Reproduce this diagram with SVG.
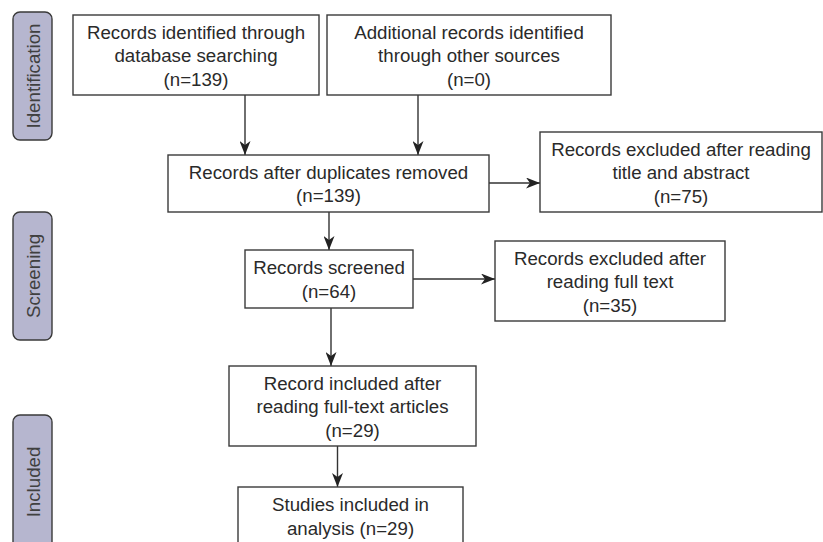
<svg xmlns="http://www.w3.org/2000/svg" width="823" height="542" viewBox="0 0 823 542">
<defs>
<style>
.box{fill:#fff;stroke:#3a3a3a;stroke-width:1.4}
.pill{fill:#b6b6cf;stroke:#3a3a3a;stroke-width:1.4}
text{font-family:"Liberation Sans",Arial,Helvetica,sans-serif;font-size:18.7px;fill:#2a2a2a;text-anchor:middle}
.pt{fill:#404040}
.conn{fill:none;stroke:#333;stroke-width:1.4;marker-end:url(#ah)}
</style>
<marker id="ah" markerUnits="userSpaceOnUse" viewBox="0 0 14 11" refX="14" refY="5.5" markerWidth="14" markerHeight="11" orient="auto">
<path d="M0,0 L14,5.5 L0,11 L4,5.5 z" fill="#222"/>
</marker>
</defs>
<rect width="823" height="542" fill="#fff"/>
<g id="stage-identification">
<rect class="pill" x="13" y="12" width="39" height="128" rx="7"/>
<text class="pt" transform="translate(39.5,76) rotate(-90)">Identification</text>
</g>
<g id="stage-screening">
<rect class="pill" x="13" y="212" width="39" height="128" rx="7"/>
<text class="pt" transform="translate(39.5,276) rotate(-90)">Screening</text>
</g>
<g id="stage-included">
<rect class="pill" x="13" y="415" width="39" height="134" rx="7"/>
<text class="pt" transform="translate(39.5,482) rotate(-90)">Included</text>
</g>
<g id="connectors">
<line class="conn" x1="245" y1="95" x2="245" y2="155"/>
<line class="conn" x1="418" y1="95" x2="418" y2="155"/>
<line class="conn" x1="489" y1="183" x2="540" y2="183"/>
<line class="conn" x1="329" y1="212" x2="329" y2="250"/>
<line class="conn" x1="413" y1="279" x2="495" y2="279"/>
<line class="conn" x1="331" y1="308" x2="331" y2="366"/>
<line class="conn" x1="337.5" y1="446" x2="337.5" y2="487"/>
</g>
<g id="n1">
<rect class="box" x="73" y="15" width="246" height="80"/>
<text x="196" y="38.5">Records identified through</text>
<text x="196" y="62">database searching</text>
<text x="196" y="85.5">(n=139)</text>
</g>
<g id="n2">
<rect class="box" x="327" y="15" width="284" height="80"/>
<text x="469" y="38.5">Additional records identified</text>
<text x="469" y="62">through other sources</text>
<text x="469" y="85.5">(n=0)</text>
</g>
<g id="n3">
<rect class="box" x="168" y="155" width="321" height="57"/>
<text x="328.5" y="178.5">Records after duplicates removed</text>
<text x="328.5" y="202">(n=139)</text>
</g>
<g id="n4">
<rect class="box" x="540" y="132" width="282" height="80"/>
<text x="681" y="155.5">Records excluded after reading</text>
<text x="681" y="179">title and abstract</text>
<text x="681" y="202.5">(n=75)</text>
</g>
<g id="n5">
<rect class="box" x="245" y="250" width="168" height="58"/>
<text x="329" y="274">Records screened</text>
<text x="329" y="297.5">(n=64)</text>
</g>
<g id="n6">
<rect class="box" x="495" y="241" width="230" height="80"/>
<text x="610" y="264.5">Records excluded after</text>
<text x="610" y="288">reading full text</text>
<text x="610" y="311.5">(n=35)</text>
</g>
<g id="n7">
<rect class="box" x="229" y="366" width="247" height="80"/>
<text x="352.5" y="389.5">Record included after</text>
<text x="352.5" y="413">reading full-text articles</text>
<text x="352.5" y="436.5">(n=29)</text>
</g>
<g id="n8">
<rect class="box" x="238" y="487" width="225" height="70"/>
<text x="350.5" y="511">Studies included in</text>
<text x="350.5" y="534.5">analysis (n=29)</text>
</g>
</svg>
